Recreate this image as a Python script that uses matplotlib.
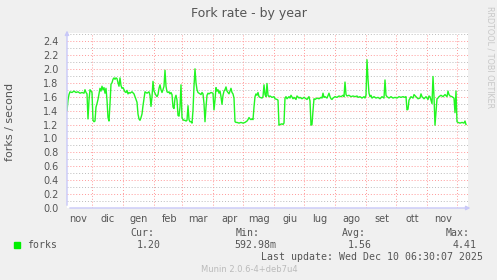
import numpy as np
import matplotlib
matplotlib.use('Agg')
import matplotlib.pyplot as plt
from matplotlib.patches import Rectangle

# dati (giorni dal 6 nov 2024, forks/s)
days = [0, 1, 2, 3, 5, 7, 9, 11, 13, 15, 17, 18, 19, 20, 21, 22, 23, 24, 25, 26,
        27, 28, 29, 30, 31, 33, 34, 35, 36, 37, 38, 39, 40, 41, 42, 43, 44, 45, 46, 47,
        48, 49, 50, 51, 52, 53, 54, 55, 56, 57, 58, 59, 60, 61, 62, 63, 65, 67, 68, 69,
        70, 71, 72, 73, 74, 75, 76, 77, 78, 80, 82, 83, 84, 85, 86, 87, 88, 89, 90, 91,
        92, 93, 94, 95, 96, 97, 98, 99, 100, 101, 102, 103, 104, 105, 106, 107, 108, 109, 110, 111,
        112, 113, 114, 115, 116, 117, 118, 119, 120, 121, 122, 123, 124, 125, 126, 127, 128, 129, 130, 131,
        132, 134, 135, 136, 137, 138, 139, 140, 141, 142, 144, 146, 147, 148, 149, 150, 151, 152, 153, 154,
        155, 156, 157, 158, 159, 160, 161, 162, 163, 164, 165, 166, 167, 168, 169, 170, 172, 174, 176, 178,
        180, 181, 182, 183, 184, 185, 186, 187, 188, 189, 190, 191, 192, 193, 195, 196, 197, 198, 199, 200,
        201, 202, 203, 205, 207, 208, 210, 211, 212, 213, 215, 216, 217, 218, 219, 220, 222, 223, 224, 226,
        227, 229, 230, 232, 233, 235, 237, 239, 240, 242, 243, 244, 245, 246, 247, 248, 250, 252, 254, 255,
        256, 257, 258, 260, 262, 263, 264, 265, 266, 268, 270, 272, 274, 276, 277, 278, 279, 280, 282, 284,
        286, 288, 290, 291, 293, 295, 297, 298, 299, 300, 301, 302, 303, 304, 305, 307, 309, 311, 313, 315,
        317, 318, 319, 320, 322, 324, 326, 328, 330, 332, 334, 336, 338, 339, 340, 341, 342, 344, 346, 347,
        349, 351, 353, 354, 355, 357, 359, 361, 362, 363, 364, 365, 366, 367, 368, 369, 370, 371, 372, 374,
        376, 378, 380, 381, 382, 383, 385, 386, 387, 388, 389, 390, 391, 393, 395, 397, 398, 399]
forks = [1.40, 1.55, 1.63, 1.67, 1.66, 1.68, 1.66, 1.67, 1.65, 1.66, 1.65, 1.70, 1.66, 1.64, 1.28, 1.55, 1.70, 1.68, 1.66, 1.26,
         1.24, 1.25, 1.45, 1.50, 1.56, 1.72, 1.68, 1.75, 1.70, 1.73, 1.65, 1.72, 1.55, 1.30, 1.25, 1.50, 1.78, 1.80, 1.85, 1.87,
         1.85, 1.87, 1.86, 1.80, 1.75, 1.87, 1.76, 1.72, 1.73, 1.70, 1.67, 1.66, 1.69, 1.64, 1.66, 1.65, 1.67, 1.64, 1.60, 1.56,
         1.52, 1.35, 1.28, 1.26, 1.30, 1.35, 1.47, 1.57, 1.67, 1.65, 1.67, 1.62, 1.46, 1.60, 1.82, 1.68, 1.65, 1.62, 1.60, 1.63,
         1.72, 1.77, 1.70, 1.66, 1.70, 1.75, 1.98, 1.75, 1.67, 1.66, 1.67, 1.64, 1.66, 1.63, 1.45, 1.43, 1.58, 1.62, 1.55, 1.33,
         1.32, 1.45, 1.77, 1.30, 1.27, 1.26, 1.26, 1.25, 1.26, 1.47, 1.27, 1.24, 1.24, 1.22, 1.40, 1.75, 2.00, 1.80, 1.70, 1.66,
         1.65, 1.63, 1.66, 1.64, 1.50, 1.24, 1.45, 1.62, 1.65, 1.64, 1.66, 1.65, 1.41, 1.55, 1.73, 1.68, 1.70, 1.65, 1.68, 1.60,
         1.49, 1.62, 1.68, 1.70, 1.74, 1.68, 1.66, 1.64, 1.68, 1.72, 1.66, 1.64, 1.58, 1.24, 1.23, 1.23, 1.22, 1.23, 1.22, 1.23,
         1.25, 1.27, 1.30, 1.28, 1.27, 1.28, 1.27, 1.45, 1.60, 1.64, 1.62, 1.66, 1.60, 1.59, 1.58, 1.60, 1.77, 1.63, 1.60, 1.79,
         1.62, 1.60, 1.61, 1.59, 1.60, 1.57, 1.56, 1.55, 1.19, 1.20, 1.21, 1.20, 1.22, 1.58, 1.60, 1.57, 1.60, 1.58, 1.62, 1.57,
         1.59, 1.56, 1.61, 1.58, 1.59, 1.57, 1.59, 1.57, 1.56, 1.60, 1.54, 1.19, 1.20, 1.40, 1.57, 1.56, 1.58, 1.57, 1.59, 1.58,
         1.65, 1.59, 1.60, 1.58, 1.65, 1.60, 1.57, 1.56, 1.58, 1.60, 1.59, 1.61, 1.60, 1.62, 1.60, 1.81, 1.63, 1.61, 1.62, 1.60,
         1.61, 1.60, 1.61, 1.59, 1.60, 1.58, 1.60, 1.58, 1.62, 2.13, 1.85, 1.65, 1.60, 1.62, 1.58, 1.60, 1.58, 1.59, 1.57, 1.60,
         1.58, 1.84, 1.62, 1.60, 1.58, 1.60, 1.58, 1.59, 1.58, 1.60, 1.59, 1.60, 1.59, 1.60, 1.41, 1.42, 1.55, 1.60, 1.58, 1.63,
         1.60, 1.57, 1.58, 1.64, 1.60, 1.57, 1.60, 1.56, 1.61, 1.60, 1.55, 1.50, 1.89, 1.60, 1.19, 1.39, 1.57, 1.58, 1.60, 1.62,
         1.60, 1.63, 1.60, 1.68, 1.63, 1.61, 1.60, 1.59, 1.58, 1.37, 1.68, 1.24, 1.23, 1.22, 1.23, 1.22, 1.25, 1.20]

mesi = ['nov', 'dic', 'gen', 'feb', 'mar', 'apr', 'mag', 'giu', 'lug', 'ago', 'set', 'ott', 'nov']
start = np.datetime64('2024-11-06')
month_starts = np.arange('2024-11', '2026-01', dtype='datetime64[M]').astype('datetime64[D]')
month_pos = (month_starts - start).astype(float)

legend_head = ['Cur:', 'Min:', 'Avg:', 'Max:']
legend_vals = ['1.20', '592.98m', '1.56', '4.41']

W, H = 497, 280
fig = plt.figure(figsize=(W / 100, H / 100), dpi=100, facecolor='#F0F0F0')
ax = fig.add_axes([67 / W, (H - 208) / H, (468 - 67) / W, (208 - 33) / H])
ax.set_facecolor('white')

ax.set_xlim(0, 401)
ax.set_ylim(0, 2.515)

# griglia stile rrdtool
for v in np.arange(0.1, 2.55, 0.1):
    if round(v * 10) % 2 == 0:
        ax.axhline(v, color='#FF9999', lw=0.7, ls=(0, (1, 2)), zorder=1)
    else:
        ax.axhline(v, color='#BBBBBB', lw=0.7, ls=(0, (1, 2)), zorder=1)
for p in month_pos[1:]:
    ax.axvline(p, color='#FF9999', lw=0.7, ls=(0, (1, 2)), zorder=1)

ax.plot(days, forks, color='#22F522', lw=1.0, zorder=3)

ax.set_yticks(np.arange(0, 2.41, 0.2))
ax.set_yticklabels(['%.1f' % v for v in np.arange(0, 2.41, 0.2)])
ax.set_xticks(month_pos[:13] + 16)
ax.set_xticklabels(mesi)
ax.tick_params(length=0, labelsize=7, colors='#555555', pad=4)
ax.tick_params(axis='y', pad=6)
for s in ax.spines.values():
    s.set_visible(False)

# assi con freccia
ax.annotate('', xy=(1.013, 0), xytext=(0, 0), xycoords='axes fraction',
            arrowprops=dict(arrowstyle='-|>', color='#C8C8F8', lw=1, mutation_scale=6), zorder=4)
ax.annotate('', xy=(0, 1.03), xytext=(0, 0), xycoords='axes fraction',
            arrowprops=dict(arrowstyle='-|>', color='#C8C8F8', lw=1, mutation_scale=6), zorder=4)

fig.text(0.5, 1 - 13 / H, 'Fork rate - by year', ha='center', va='center', fontsize=9, color='#555555')
fig.text(10 / W, 1 - 122 / H, 'forks / second', rotation=90, ha='center', va='center', fontsize=8, color='#555555')
fig.text(490 / W, 1 - 57 / H, 'RRDTOOL / TOBI OETIKER', rotation=270, ha='center', va='center',
         fontsize=5.8, color='#C8C8C8')

mono = 'DejaVu Sans Mono'
fig.patches.append(Rectangle((14 / W, 1 - 248 / H), 6 / W, 6 / H, transform=fig.transFigure,
                             color='#00F000', figure=fig))
fig.text(27 / W, 1 - 245 / H, 'forks', ha='left', va='center', fontsize=7.1, family=mono, color='#555555')
head_x = [142, 248, 354, 458]
val_x = [149, 255, 360, 465]
for hx, h in zip(head_x, legend_head):
    fig.text(hx / W, 1 - 233 / H, h, ha='center', va='center', fontsize=7.1, family=mono, color='#555555')
for vx, v in zip(val_x, legend_vals):
    fig.text(vx / W, 1 - 245 / H, v, ha='center', va='center', fontsize=7.1, family=mono, color='#555555')
fig.text(483 / W, 1 - 257 / H, 'Last update: Wed Dec 10 06:30:07 2025', ha='right', va='center',
         fontsize=7.1, family=mono, color='#555555')
fig.text(249 / W, 1 - 269 / H, 'Munin 2.0.6-4+deb7u4', ha='center', va='center', fontsize=6, color='#BBBBBB')

fig.savefig('out.png', dpi=100, facecolor=fig.get_facecolor())
